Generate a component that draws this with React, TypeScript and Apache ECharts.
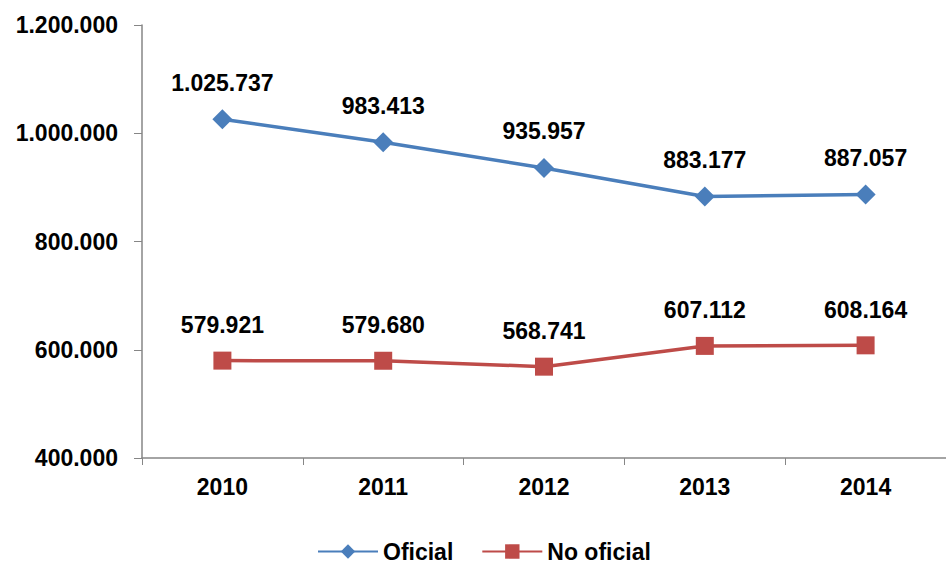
import React, { useEffect, useRef } from "react";
import * as echarts from "echarts";

const years = ["2010", "2011", "2012", "2013", "2014"];
const oficial = [1025737, 983413, 935957, 883177, 887057];
const noOficial = [579921, 579680, 568741, 607112, 608164];
const yTicks = { min: 400000, max: 1200000, interval: 200000 };

const fmt = (v: number) => String(Math.round(v)).replace(/\B(?=(\d{3})+(?!\d))/g, ".");

export default function App() {
  const ref = useRef<HTMLDivElement>(null);
  useEffect(() => {
    const chart = echarts.init(ref.current!, null, { renderer: "svg" });
    const font = "Liberation Sans, Arial, sans-serif";
    const fs = 23;
    chart.setOption({
      animation: false,
      backgroundColor: "#ffffff",
      textStyle: { fontFamily: font },
      grid: { left: 142, top: 25, height: 433, width: 810, containLabel: false },
      legend: {
        bottom: -3,
        left: 312,
        itemWidth: 60,
        itemHeight: 18,
        itemGap: 28,
        textStyle: { fontSize: fs, fontWeight: "bold", color: "#000", fontFamily: font },
        data: ["Oficial", "No oficial"],
      },
      xAxis: {
        type: "category",
        data: years,
        boundaryGap: true,
        axisLine: { lineStyle: { color: "#868686", width: 1.5 } },
        axisTick: { show: true, length: 7, lineStyle: { color: "#868686" } },
        axisLabel: { fontSize: fs, fontWeight: "bold", color: "#000", margin: 17, fontFamily: font },
      },
      yAxis: {
        type: "value",
        min: yTicks.min,
        max: yTicks.max,
        interval: yTicks.interval,
        splitLine: { show: false },
        axisLine: { show: true, lineStyle: { color: "#868686", width: 1.5 } },
        axisTick: { show: true, length: 8, lineStyle: { color: "#868686" } },
        axisLabel: {
          fontSize: fs,
          fontWeight: "bold",
          color: "#000",
          margin: 24,
          fontFamily: font,
          formatter: (v: number) => fmt(v),
        },
      },
      series: [
        {
          name: "Oficial",
          type: "line",
          data: oficial,
          symbol: "diamond",
          symbolSize: 20,
          itemStyle: { color: "#4a7ebb" },
          lineStyle: { color: "#4a7ebb", width: 3.5 },
          label: {
            show: true,
            position: "top",
            distance: 15,
            fontSize: fs,
            fontWeight: "bold",
            color: "#000",
            fontFamily: font,
            formatter: (p: any) => fmt(p.value),
          },
        },
        {
          name: "No oficial",
          type: "line",
          data: noOficial,
          symbol: "rect",
          symbolSize: 18,
          itemStyle: { color: "#be4b48" },
          lineStyle: { color: "#be4b48", width: 3.5 },
          label: {
            show: true,
            position: "top",
            distance: 15,
            fontSize: fs,
            fontWeight: "bold",
            color: "#000",
            fontFamily: font,
            formatter: (p: any) => fmt(p.value),
          },
        },
      ],
    });
    return () => chart.dispose();
  }, []);
  return (
    <div
      ref={ref}
      style={{ position: "fixed", left: 0, top: 0, width: 946, height: 565 }}
    />
  );
}
